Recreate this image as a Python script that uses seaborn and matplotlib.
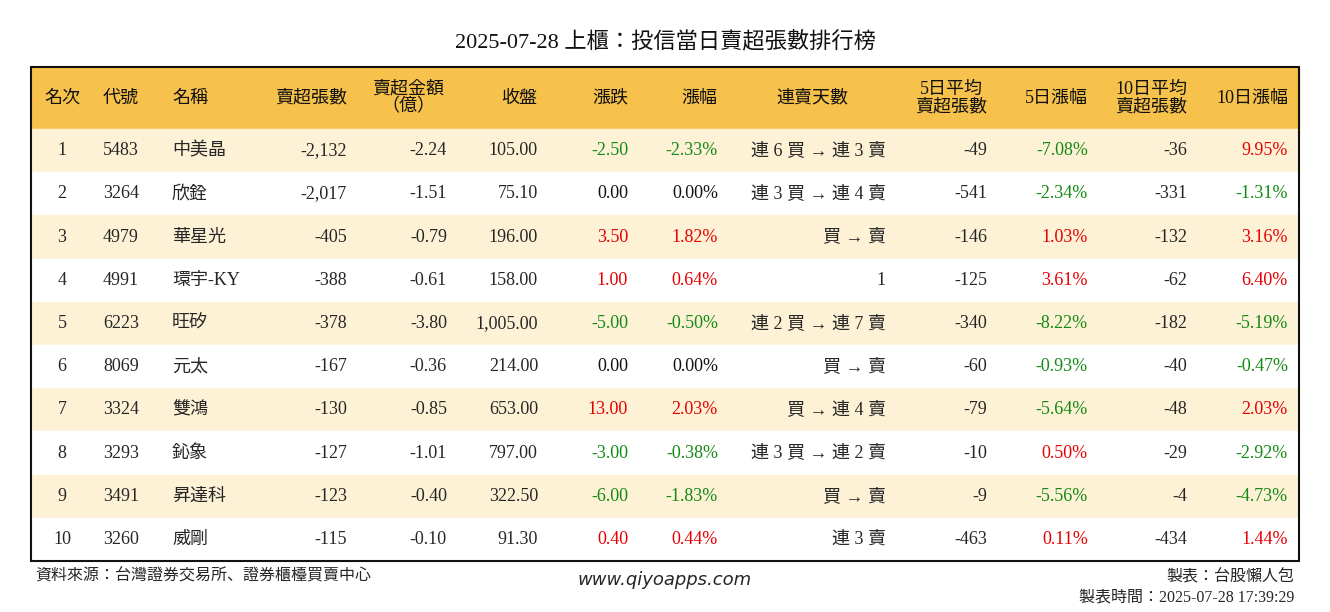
import matplotlib
matplotlib.use("Agg")
import matplotlib.pyplot as plt
from matplotlib.patches import Rectangle
from matplotlib import font_manager
import seaborn as sns

sns.set_theme(style="white")
cjk = [f.name for f in font_manager.fontManager.ttflist if 'CJK' in f.name]
cjk_pref = [n for n in ["Noto Sans CJK TC", "Noto Sans CJK JP", "Noto Sans CJK SC"] if n in cjk] or cjk[:1]
plt.rc('font', family=['Liberation Serif'] + cjk_pref)

title = "2025-07-28 上櫃：投信當日賣超張數排行榜"
ranks = list(range(1, 11))
codes = ["5483", "3264", "4979", "4991", "6223", "8069", "3324", "3293", "3491", "3260"]
names = ["中美晶", "欣銓", "華星光", "環宇-KY", "旺矽", "元太", "雙鴻", "鈊象", "昇達科", "威剛"]
sell_lots = [-2132, -2017, -405, -388, -378, -167, -130, -127, -123, -115]
sell_amt = [-2.24, -1.51, -0.79, -0.61, -3.80, -0.36, -0.85, -1.01, -0.40, -0.10]
close = [105.00, 75.10, 196.00, 158.00, 1005.00, 214.00, 653.00, 797.00, 322.50, 91.30]
change = [-2.50, 0.00, 3.50, 1.00, -5.00, 0.00, 13.00, -3.00, -6.00, 0.40]
pct = [-2.33, 0.00, 1.82, 0.64, -0.50, 0.00, 2.03, -0.38, -1.83, 0.44]
streak = ["連 6 買 → 連 3 賣", "連 3 買 → 連 4 賣", "買 → 賣", "1", "連 2 買 → 連 7 賣",
          "買 → 賣", "買 → 連 4 賣", "連 3 買 → 連 2 賣", "買 → 賣", "連 3 賣"]
avg5 = [-49, -541, -146, -125, -340, -60, -79, -10, -9, -463]
pct5 = [-7.08, -2.34, 1.03, 3.61, -8.22, -0.93, -5.64, 0.50, -5.56, 0.11]
avg10 = [-36, -331, -132, -62, -182, -40, -48, -29, -4, -434]
pct10 = [9.95, -1.31, 3.16, 6.40, -5.19, -0.47, 2.03, -2.92, -4.73, 1.44]

RED, GREEN, BLACK = "#e60000", "#138a13", "#111111"


def col(v):
    return RED if v > 0 else (GREEN if v < 0 else BLACK)


fig = plt.figure(figsize=(13.3, 6.12), dpi=100)
ax = fig.add_axes([0, 0, 1, 1])
ax.set_xlim(0, 1330)
ax.set_ylim(612, 0)
ax.axis('off')

ax.text(665, 42, title, ha='center', va='center', fontsize=16, color=BLACK)

left, right, top, hdr_h, row_h = 31, 1299, 67, 62, 43.2
ax.add_patch(Rectangle((left, top), right - left, hdr_h, color="#f7c24c", zorder=0))
for i in range(10):
    y0 = top + hdr_h + i * row_h
    c = "#fdf2d6" if i % 2 == 0 else "white"
    ax.add_patch(Rectangle((left, y0), right - left, row_h, color=c, zorder=0))
bottom = top + hdr_h + 10 * row_h
ax.add_patch(Rectangle((left, top), right - left, bottom - top, fill=False,
                       edgecolor=BLACK, lw=1.5, zorder=3))

hy = top + hdr_h / 2
fs = 13
headers = [(62, "名次", 'center'), (103, "代號", 'left'), (172, "名稱", 'left'),
           (347, "賣超張數", 'right'), (408, "賣超金額\n（億）", 'center'),
           (537, "收盤", 'right'), (628, "漲跌", 'right'), (717, "漲幅", 'right'),
           (812, "連賣天數", 'center'), (987, "5日平均\n賣超張數", 'right'),
           (1088, "5日漲幅", 'right'), (1187, "10日平均\n賣超張數", 'right'),
           (1288, "10日漲幅", 'right')]
for x, t, ha in headers:
    ax.text(x, hy, t, ha=ha, va='center', fontsize=fs, color=BLACK, linespacing=1.0,
            multialignment='center')

for i in range(10):
    y = top + hdr_h + (i + 0.5) * row_h
    ax.text(62, y, str(ranks[i]), ha='center', va='center', fontsize=fs)
    ax.text(103, y, codes[i], ha='left', va='center', fontsize=fs)
    ax.text(172, y, names[i], ha='left', va='center', fontsize=fs)
    ax.text(347, y, f"{sell_lots[i]:,}", ha='right', va='center', fontsize=fs)
    ax.text(447, y, f"{sell_amt[i]:.2f}", ha='right', va='center', fontsize=fs)
    ax.text(538, y, f"{close[i]:,.2f}", ha='right', va='center', fontsize=fs)
    ax.text(628, y, f"{change[i]:.2f}", ha='right', va='center', fontsize=fs, color=col(change[i]))
    ax.text(718, y, f"{pct[i]:.2f}%", ha='right', va='center', fontsize=fs, color=col(pct[i]))
    ax.text(886, y, streak[i], ha='right', va='center', fontsize=fs)
    ax.text(987, y, f"{avg5[i]:,}", ha='right', va='center', fontsize=fs)
    ax.text(1088, y, f"{pct5[i]:.2f}%", ha='right', va='center', fontsize=fs, color=col(pct5[i]))
    ax.text(1187, y, f"{avg10[i]:,}", ha='right', va='center', fontsize=fs)
    ax.text(1288, y, f"{pct10[i]:.2f}%", ha='right', va='center', fontsize=fs, color=col(pct10[i]))

ax.text(35, 577, "資料來源：台灣證券交易所、證券櫃檯買賣中心", ha='left', va='center', fontsize=11.5)
ax.text(665, 580, "www.qiyoapps.com", ha='center', va='center', fontsize=13,
        style='italic', family='DejaVu Sans')
ax.text(1294, 577, "製表：台股懶人包", ha='right', va='center', fontsize=11.5)
ax.text(1294, 597, "製表時間：2025-07-28 17:39:29", ha='right', va='center', fontsize=11.5)

fig.savefig("out.png", dpi=100)
